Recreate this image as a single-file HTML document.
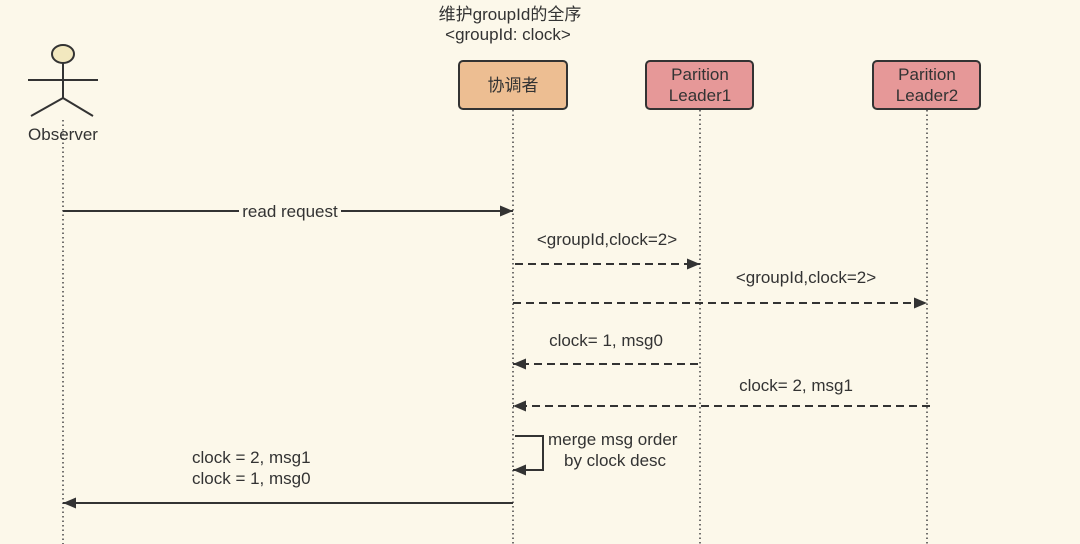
<!DOCTYPE html>
<html><head><meta charset="utf-8"><style>
html,body{margin:0;padding:0;background:#fcf8ea;}
svg{display:block;}
text{font-family:"Liberation Sans","Noto Sans CJK SC",sans-serif;font-size:17px;fill:#333;}
</style></head><body>
<svg width="1080" height="544" viewBox="0 0 1080 544" xmlns="http://www.w3.org/2000/svg">
<defs>
<marker id="a" viewBox="0 0 13 11" refX="13" refY="5.5" markerWidth="13" markerHeight="11" markerUnits="userSpaceOnUse" orient="auto"><path d="M0,0 L13,5.5 L0,11 z" fill="#333"/></marker>
</defs>
<rect width="1080" height="544" fill="#fcf8ea"/>
<g stroke="#444" stroke-width="1.5" stroke-dasharray="1.5,3">
<line x1="63" y1="120" x2="63" y2="544"/>
<line x1="513" y1="110" x2="513" y2="544"/>
<line x1="700" y1="110" x2="700" y2="544"/>
<line x1="927" y1="110" x2="927" y2="544"/>
</g>
<g stroke="#333" stroke-width="2" fill="none">
<ellipse cx="63" cy="54" rx="11" ry="9" fill="#f2e8bf"/>
<line x1="63" y1="63" x2="63" y2="98"/>
<line x1="28" y1="80" x2="98" y2="80"/>
<line x1="63" y1="98" x2="31" y2="116"/>
<line x1="63" y1="98" x2="93" y2="116"/>
</g>
<text x="63" y="140" text-anchor="middle">Observer</text>
<text x="510" y="20" text-anchor="middle">维护groupId的全序</text>
<text x="508" y="40" text-anchor="middle">&lt;groupId: clock&gt;</text>
<rect x="459" y="61" width="108" height="48" rx="4" fill="#edbe92" stroke="#333" stroke-width="2"/>
<text x="513" y="91" text-anchor="middle">协调者</text>
<rect x="646" y="61" width="107" height="48" rx="4" fill="#e69898" stroke="#333" stroke-width="2"/>
<text x="700" y="80" text-anchor="middle">Parition</text>
<text x="700" y="101" text-anchor="middle">Leader1</text>
<rect x="873" y="61" width="107" height="48" rx="4" fill="#e69898" stroke="#333" stroke-width="2"/>
<text x="927" y="80" text-anchor="middle">Parition</text>
<text x="927" y="101" text-anchor="middle">Leader2</text>
<g stroke="#333" stroke-width="2" fill="none">
<line x1="63" y1="211" x2="513" y2="211" marker-end="url(#a)"/>
<line x1="515" y1="264" x2="700" y2="264" stroke-dasharray="8,5" marker-end="url(#a)"/>
<line x1="513" y1="303" x2="927" y2="303" stroke-dasharray="8,5" marker-end="url(#a)"/>
<line x1="698" y1="364" x2="513" y2="364" stroke-dasharray="8,5" marker-end="url(#a)"/>
<line x1="930" y1="406" x2="513" y2="406" stroke-dasharray="8,5" marker-end="url(#a)"/>
<polyline points="515,436 543,436 543,470 513,470" marker-end="url(#a)"/>
<line x1="513" y1="503" x2="63" y2="503" marker-end="url(#a)"/>
</g>
<rect x="239" y="201" width="102" height="20" fill="#fcf8ea"/>
<text x="290" y="217" text-anchor="middle">read request</text>
<text x="607" y="245" text-anchor="middle">&lt;groupId,clock=2&gt;</text>
<text x="806" y="283" text-anchor="middle">&lt;groupId,clock=2&gt;</text>
<text x="606" y="346" text-anchor="middle">clock= 1, msg0</text>
<text x="796" y="391" text-anchor="middle">clock= 2, msg1</text>
<text x="548" y="445">merge msg order</text>
<text x="564" y="466">by clock desc</text>
<text x="192" y="463">clock = 2, msg1</text>
<text x="192" y="484">clock = 1, msg0</text>
</svg>
</body></html>
